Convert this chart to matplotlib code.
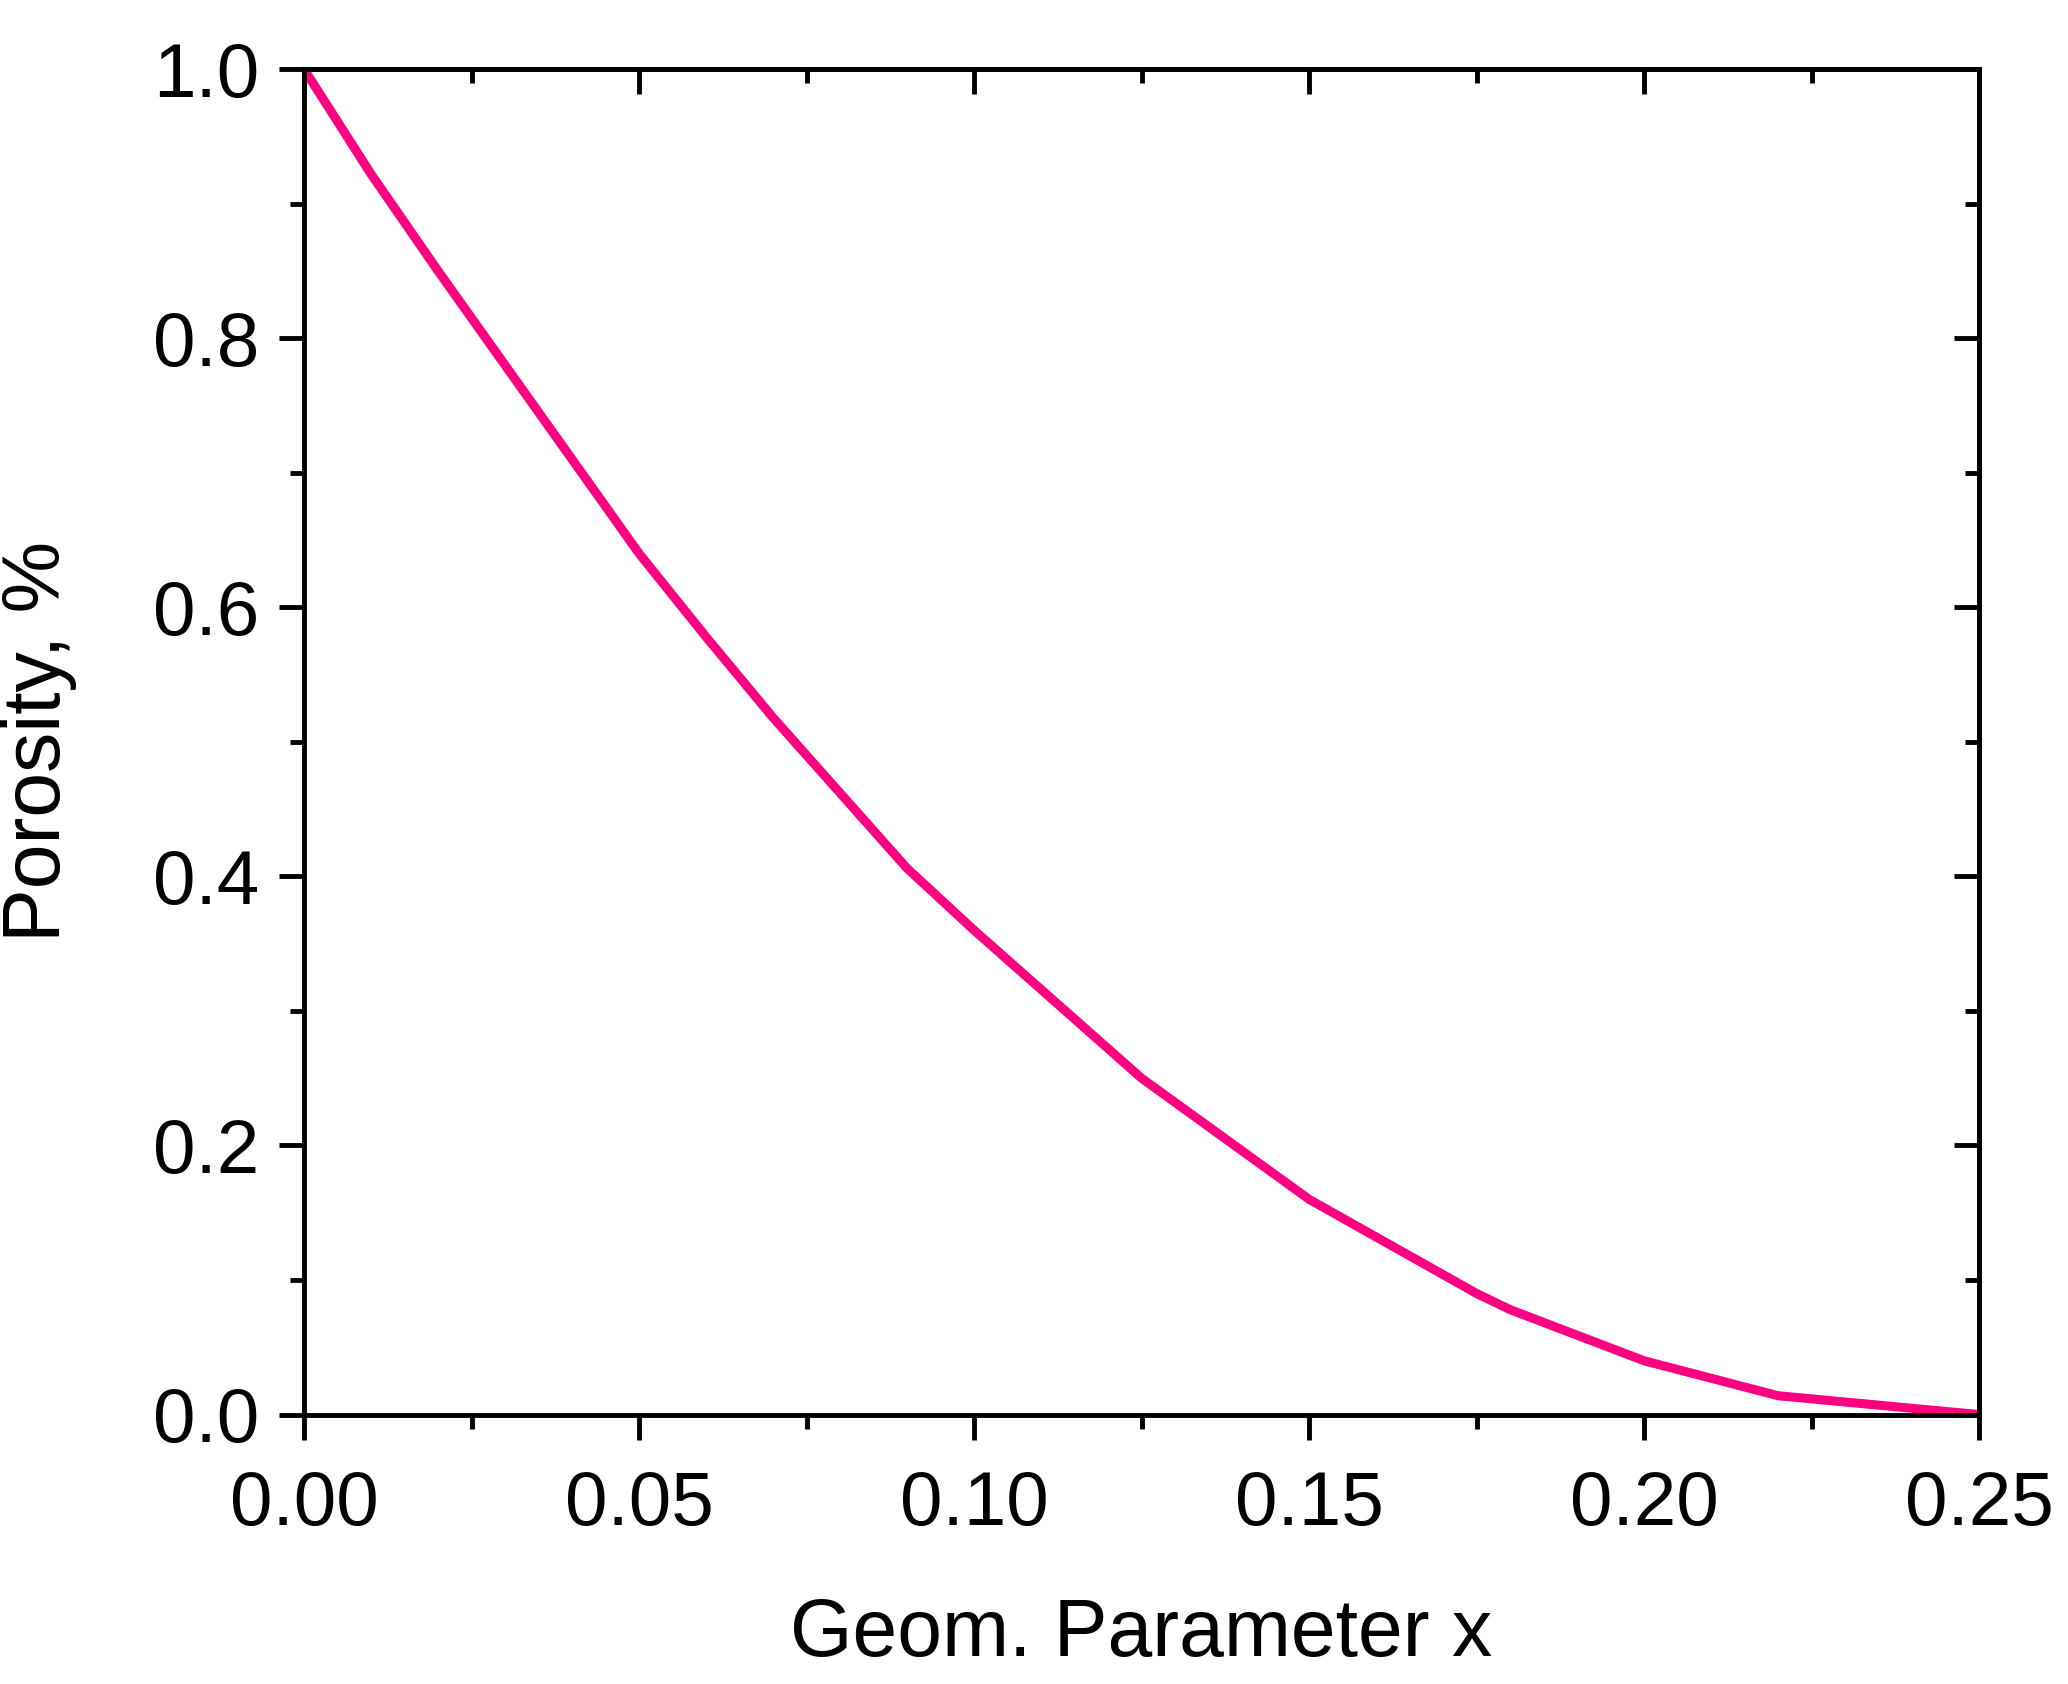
import matplotlib.pyplot as plt
from matplotlib.ticker import MultipleLocator

plt.rcParams['font.family'] = ['Liberation Sans', 'DejaVu Sans']

# values
geom_x = [0.0, 0.01, 0.02, 0.03, 0.04, 0.05, 0.06, 0.07, 0.08, 0.09, 0.10,
          0.125, 0.15, 0.175, 0.18, 0.20, 0.22, 0.25]
porosity = [1.0, 0.922, 0.85, 0.78, 0.71, 0.64, 0.578, 0.518, 0.462, 0.406, 0.36,
            0.25, 0.16, 0.09, 0.078, 0.04, 0.014, 0.0]

fig = plt.figure(figsize=(20.68, 16.84), dpi=100)
ax = fig.add_axes([0.147, 0.16, 0.81, 0.799])
ax.plot(geom_x, porosity, color='#ff0080', lw=6.5)

ax.set_xlim(0, 0.25)
ax.set_ylim(0, 1.0)
ax.xaxis.set_major_locator(MultipleLocator(0.05))
ax.xaxis.set_minor_locator(MultipleLocator(0.025))
ax.yaxis.set_major_locator(MultipleLocator(0.2))
ax.yaxis.set_minor_locator(MultipleLocator(0.1))
ax.xaxis.set_major_formatter(lambda v, p: f"{v:.2f}")
ax.yaxis.set_major_formatter(lambda v, p: f"{v:.1f}")

for s in ax.spines.values():
    s.set_linewidth(3.5)
ax.tick_params(which='both', direction='out', width=3.5, labelsize=55)
ax.tick_params(axis='x', pad=22)
ax.tick_params(axis='y', pad=14)
ax.tick_params(which='major', length=18)
ax.tick_params(which='minor', length=10)

# inward ticks on top/right
top = ax.secondary_xaxis('top')
top.set_xticks(ax.get_xticks())
top.xaxis.set_minor_locator(MultipleLocator(0.025))
top.tick_params(which='both', direction='in', width=3.5, labeltop=False)
top.tick_params(which='major', length=18)
top.tick_params(which='minor', length=10)
top.spines['top'].set_linewidth(3.5)
right = ax.secondary_yaxis('right')
right.set_yticks(ax.get_yticks())
right.yaxis.set_minor_locator(MultipleLocator(0.1))
right.tick_params(which='both', direction='in', width=3.5, labelright=False)
right.tick_params(which='major', length=18)
right.tick_params(which='minor', length=10)
right.spines['right'].set_linewidth(3.5)

ax.set_xlabel('Geom. Parameter x', fontsize=58, labelpad=40)
ax.set_ylabel('Porosity, %', fontsize=58, labelpad=55)

fig.savefig('out.png', dpi=100)
